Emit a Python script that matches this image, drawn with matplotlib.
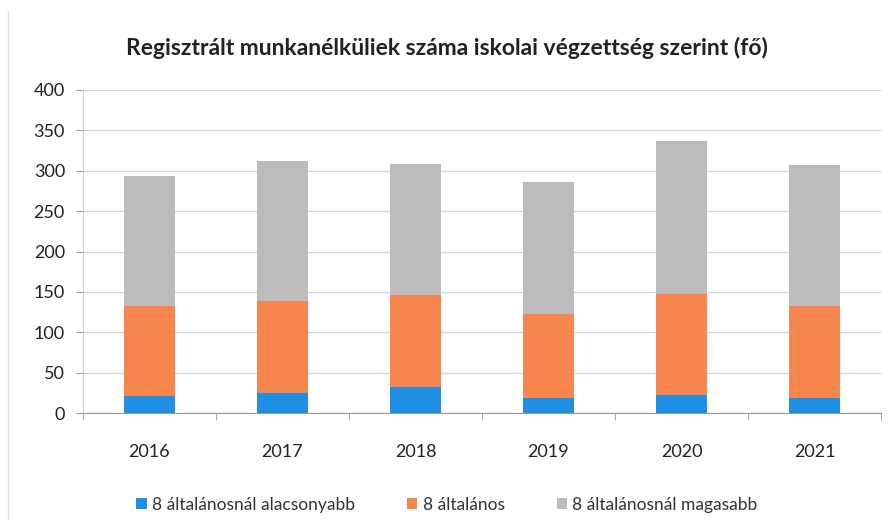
import numpy as np
import matplotlib.pyplot as plt

# Values (persons)
years = ['2016', '2017', '2018', '2019', '2020', '2021']
below_8 = [21, 25, 32, 18, 22, 19]
primary_8 = [111, 114, 114, 105, 125, 113]
above_8 = [161, 173, 162, 163, 190, 175]

series_names = ['8 általánosnál alacsonyabb', '8 általános', '8 általánosnál magasabb']
colors = ['#1f8fe3', '#f6854e', '#bcbcbc']

plt.rcParams['font.family'] = ['Lato', 'DejaVu Sans']

fig = plt.figure(figsize=(8.94, 5.30), dpi=100)
ax = fig.add_axes([83 / 894, 1 - 413 / 530, 798 / 894, 323 / 530])

x = np.arange(len(years))
width = 0.39
bottom = np.zeros(len(years))
for vals, name, col in zip([below_8, primary_8, above_8], series_names, colors):
    ax.bar(x, vals, width, bottom=bottom, color=col, label=name, zorder=3)
    bottom += np.array(vals)

ax.set_ylim(0, 400)
ax.set_xlim(-0.5, len(years) - 0.5)
ax.set_yticks(range(0, 401, 50))
ax.yaxis.grid(True, color='#d4d4d4', linewidth=0.9, zorder=0)
ax.set_axisbelow(True)

ax.set_xticks(x)
ax.set_xticklabels(years)
ax.set_xticks(np.arange(-0.5, len(years), 1), minor=True)
ax.tick_params(axis='x', which='major', length=0, pad=22, labelsize=13, colors='#222222')
ax.tick_params(axis='x', which='minor', length=5, color='#999999')
ax.tick_params(axis='y', length=5, color='#999999', labelsize=13, colors='#222222', pad=8)

for s in ['top', 'right']:
    ax.spines[s].set_visible(False)
ax.spines['left'].set_color('#cccccc')
ax.spines['bottom'].set_color('#999999')

fig.text(0.5, 1 - 48 / 530, 'Regisztrált munkanélküliek száma iskolai végzettség szerint (fő)',
         ha='center', va='center', fontsize=16.5, fontweight='bold', color='#222222')

fig.legend(loc='center', bbox_to_anchor=(0.5, 1 - 505 / 530), ncol=3, frameon=False,
           fontsize=12.5, handlelength=0.6, handleheight=0.6, handletextpad=0.3,
           columnspacing=3.0, labelcolor='#333333')

# faint outer border like the chart frame
fig.add_artist(plt.Line2D([8 / 894, 8 / 894], [0.02, 0.98], color='#e0e0e0', linewidth=1))

fig.savefig('out.png', dpi=100)
